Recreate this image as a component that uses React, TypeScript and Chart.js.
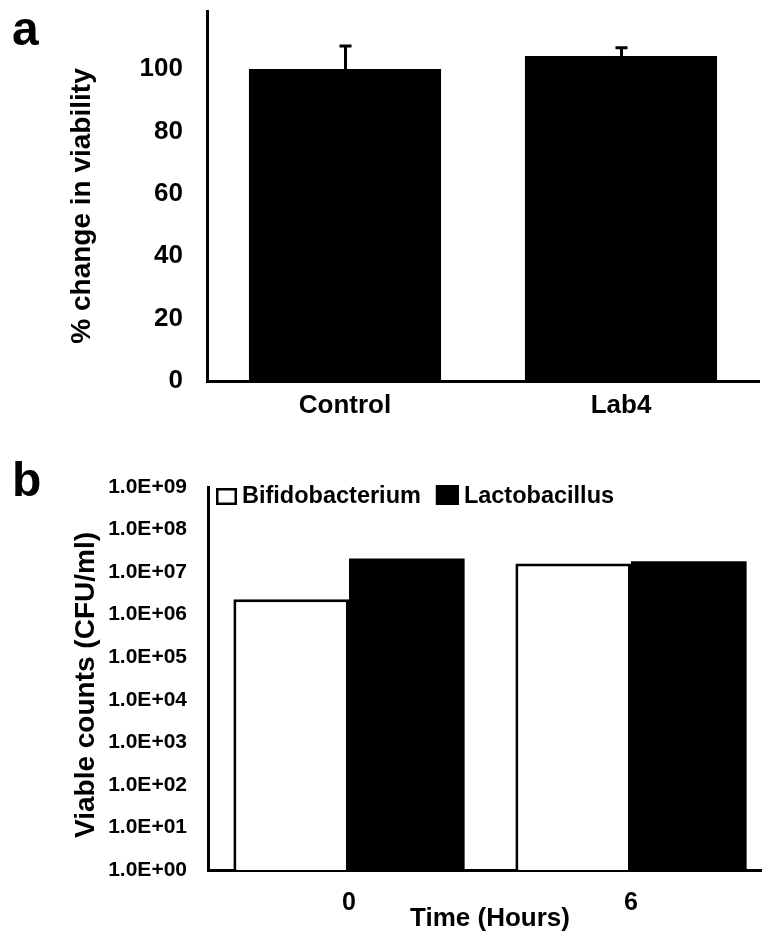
import React, { useEffect, useRef } from 'react';
import { Chart, registerables } from 'chart.js';

Chart.register(...registerables);

const FONT = "'Liberation Sans', Arial, Helvetica, sans-serif";

// ---------- Panel a data ----------
const viabilityCategories = ['Control', 'Lab4'];
const viabilityValues = [100, 104.2];
const viabilityErrors = [7.4, 2.6];
const viabilityTicks = [0, 20, 40, 60, 80, 100];
const viabilityAxisMax = 118.6;
const viabilityTitle = '% change in viability';

// ---------- Panel b data ----------
const timeLabels = ['0', '6'];
const bifidobacteriumCounts = [2.3e6, 1.6e7];
const lactobacillusCounts = [2.1e7, 1.8e7];
const countTickValues = [1e0, 1e1, 1e2, 1e3, 1e4, 1e5, 1e6, 1e7, 1e8, 1e9];
const countTickLabels = [
  '1.0E+00', '1.0E+01', '1.0E+02', '1.0E+03', '1.0E+04',
  '1.0E+05', '1.0E+06', '1.0E+07', '1.0E+08', '1.0E+09',
];
const countTitle = 'Viable counts (CFU/ml)';
const timeTitle = 'Time (Hours)';

const panelLetterPlugin = {
  id: 'panelLetter',
  afterDraw(chart: any, _args: any, opts: any) {
    const { ctx } = chart;
    ctx.save();
    ctx.font = `bold ${opts.size}px ${FONT}`;
    ctx.fillStyle = '#000';
    ctx.textAlign = 'left';
    ctx.textBaseline = 'alphabetic';
    ctx.fillText(opts.text, opts.x, opts.y);
    ctx.restore();
  },
};

// vertical axis title, centred on a given point (rotated -90deg)
const sideTitlePlugin = {
  id: 'sideTitle',
  afterDraw(chart: any, _args: any, opts: any) {
    const { ctx } = chart;
    ctx.save();
    ctx.translate(opts.x, opts.y);
    ctx.rotate(-Math.PI / 2);
    ctx.font = `bold ${opts.size}px ${FONT}`;
    ctx.fillStyle = '#000';
    ctx.textAlign = 'center';
    ctx.textBaseline = 'middle';
    ctx.fillText(opts.text, 0, 0);
    ctx.restore();
  },
};

const errorBarPlugin = {
  id: 'errorBars',
  afterDatasetsDraw(chart: any, _args: any, opts: any) {
    const { ctx } = chart;
    const meta = chart.getDatasetMeta(0);
    const yScale = chart.scales.y;
    const values = chart.data.datasets[0].data as number[];
    ctx.save();
    ctx.strokeStyle = '#000';
    ctx.lineWidth = opts.lineWidth;
    meta.data.forEach((el: any, i: number) => {
      const x = Math.round(el.x) + 0.5;
      const yTop = yScale.getPixelForValue(values[i] + opts.errors[i]);
      ctx.beginPath();
      ctx.moveTo(x, el.y);
      ctx.lineTo(x, yTop);
      ctx.moveTo(x - opts.capWidth / 2, yTop);
      ctx.lineTo(x + opts.capWidth / 2, yTop);
      ctx.stroke();
    });
    ctx.restore();
  },
};

const insideLegendPlugin = {
  id: 'insideLegend',
  afterDraw(chart: any, _args: any, opts: any) {
    const { ctx, chartArea } = chart;
    ctx.save();
    ctx.font = `bold ${opts.fontSize}px ${FONT}`;
    ctx.textBaseline = 'middle';
    ctx.textAlign = 'left';
    let x = chartArea.left + opts.offsetX;
    const yBottom = chartArea.top + opts.offsetBottom;
    const yText = chartArea.top + opts.offsetText;
    chart.data.datasets.forEach((ds: any, i: number) => {
      const [bw, bh] = opts.boxSizes[i];
      const lw = opts.boxBorder;
      ctx.fillStyle = ds.backgroundColor;
      ctx.fillRect(x, yBottom - bh, bw, bh);
      ctx.lineWidth = lw;
      ctx.strokeStyle = '#000';
      ctx.strokeRect(x + lw / 2, yBottom - bh + lw / 2, bw - lw, bh - lw);
      x += bw + opts.gap;
      ctx.fillStyle = '#000';
      ctx.fillText(ds.label, x, yText);
      x += ctx.measureText(ds.label).width + opts.spacing;
    });
    ctx.restore();
  },
};

function fixWidth(w: number) {
  return (s: any) => {
    s.width = w;
    s.paddingTop = 0;
    s.paddingBottom = 0;
  };
}
function fixHeight(h: number) {
  return (s: any) => {
    s.height = h;
    s.paddingLeft = 0;
    s.paddingRight = 0;
  };
}

export default function App() {
  const refA = useRef<HTMLCanvasElement>(null);
  const refB = useRef<HTMLCanvasElement>(null);

  useEffect(() => {
    const chartA = new Chart(refA.current as HTMLCanvasElement, {
      type: 'bar',
      data: {
        labels: viabilityCategories,
        datasets: [
          {
            label: viabilityTitle,
            data: viabilityValues,
            backgroundColor: '#000',
            borderWidth: 0,
            categoryPercentage: 1,
            barPercentage: 0.696,
          },
        ],
      },
      plugins: [panelLetterPlugin, errorBarPlugin, sideTitlePlugin],
      options: {
        responsive: false,
        animation: false,
        devicePixelRatio: 1,
        layout: { padding: { left: 0, top: 11, right: 3, bottom: 0 } },
        plugins: {
          legend: { display: false },
          tooltip: { enabled: false },
          panelLetter: { text: 'a', x: 12, y: 45, size: 48 },
          errorBars: { errors: viabilityErrors, lineWidth: 3, capWidth: 12 },
          sideTitle: { text: viabilityTitle, x: 82, y: 206, size: 28 },
        } as any,
        scales: {
          x: {
            grid: { display: false, drawTicks: false },
            border: { display: true, color: '#000', width: 3 },
            ticks: { color: '#000', font: { family: FONT, size: 26, weight: 'bold' }, padding: 9 },
            afterFit: fixHeight(49),
          },
          y: {
            min: 0,
            max: viabilityAxisMax,
            grid: { display: false, drawTicks: false },
            border: { display: true, color: '#000', width: 3 },
            afterBuildTicks: (s: any) => {
              s.ticks = viabilityTicks.map((v) => ({ value: v }));
            },
            ticks: { color: '#000', font: { family: FONT, size: 26, weight: 'bold' }, padding: 24 },
            afterFit: fixWidth(207),
          },
        },
      } as any,
    });

    const chartB = new Chart(refB.current as HTMLCanvasElement, {
      type: 'bar',
      data: {
        labels: timeLabels,
        datasets: [
          {
            label: 'Bifidobacterium',
            data: bifidobacteriumCounts,
            backgroundColor: '#fff',
            borderColor: '#000',
            borderWidth: 3,
            categoryPercentage: 0.82,
            barPercentage: 1,
          },
          {
            label: 'Lactobacillus',
            data: lactobacillusCounts,
            backgroundColor: '#000',
            borderColor: '#000',
            borderWidth: 0,
            categoryPercentage: 0.82,
            barPercentage: 1,
          },
        ],
      },
      plugins: [panelLetterPlugin, insideLegendPlugin, sideTitlePlugin],
      options: {
        responsive: false,
        animation: false,
        devicePixelRatio: 1,
        layout: { padding: { left: 0, top: 47, right: 18, bottom: 0 } },
        plugins: {
          legend: { display: false },
          tooltip: { enabled: false },
          panelLetter: { text: 'b', x: 12, y: 56, size: 48 },
          sideTitle: { text: countTitle, x: 86, y: 245, size: 28 },
          insideLegend: {
            fontSize: 23.5,
            offsetX: 8,
            offsetBottom: 18,
            offsetText: 9.5,
            boxSizes: [[21, 17], [23, 20]],
            boxBorder: 2.5,
            gap: 5,
            spacing: 15,
          },
        } as any,
        scales: {
          x: {
            grid: { display: false, drawTicks: false },
            border: { display: true, color: '#000', width: 3 },
            ticks: { color: '#000', font: { family: FONT, size: 25, weight: 'bold' }, padding: 18 },
            title: {
              display: true,
              text: timeTitle,
              color: '#000',
              font: { family: FONT, size: 26, weight: 'bold' },
              padding: { top: 0, bottom: 8 },
            },
            afterFit: fixHeight(72),
          },
          y: {
            type: 'logarithmic',
            min: 1,
            max: 1e9,
            grid: { display: false, drawTicks: false },
            border: { display: true, color: '#000', width: 3 },
            afterBuildTicks: (s: any) => {
              s.ticks = countTickValues.map((v) => ({ value: v }));
            },
            ticks: {
              color: '#000',
              font: { family: FONT, size: 21, weight: 'bold' },
              padding: 21,
              autoSkip: false,
              callback: (_v: any, i: number) => countTickLabels[i],
            },
            afterFit: fixWidth(208),
          },
        },
      } as any,
    });

    return () => {
      chartA.destroy();
      chartB.destroy();
    };
  }, []);

  return (
    <div
      style={{
        position: 'absolute',
        left: 0,
        top: 0,
        width: 762,
        height: 942,
        overflow: 'hidden',
        background: '#fff',
      }}
    >
      <div style={{ position: 'absolute', left: 0, top: 0, width: 762, height: 430 }}>
        <canvas ref={refA} width={762} height={430} style={{ display: 'block' }} />
      </div>
      <div style={{ position: 'absolute', left: 0, top: 440, width: 790, height: 502 }}>
        <canvas ref={refB} width={790} height={502} style={{ display: 'block' }} />
      </div>
    </div>
  );
}
